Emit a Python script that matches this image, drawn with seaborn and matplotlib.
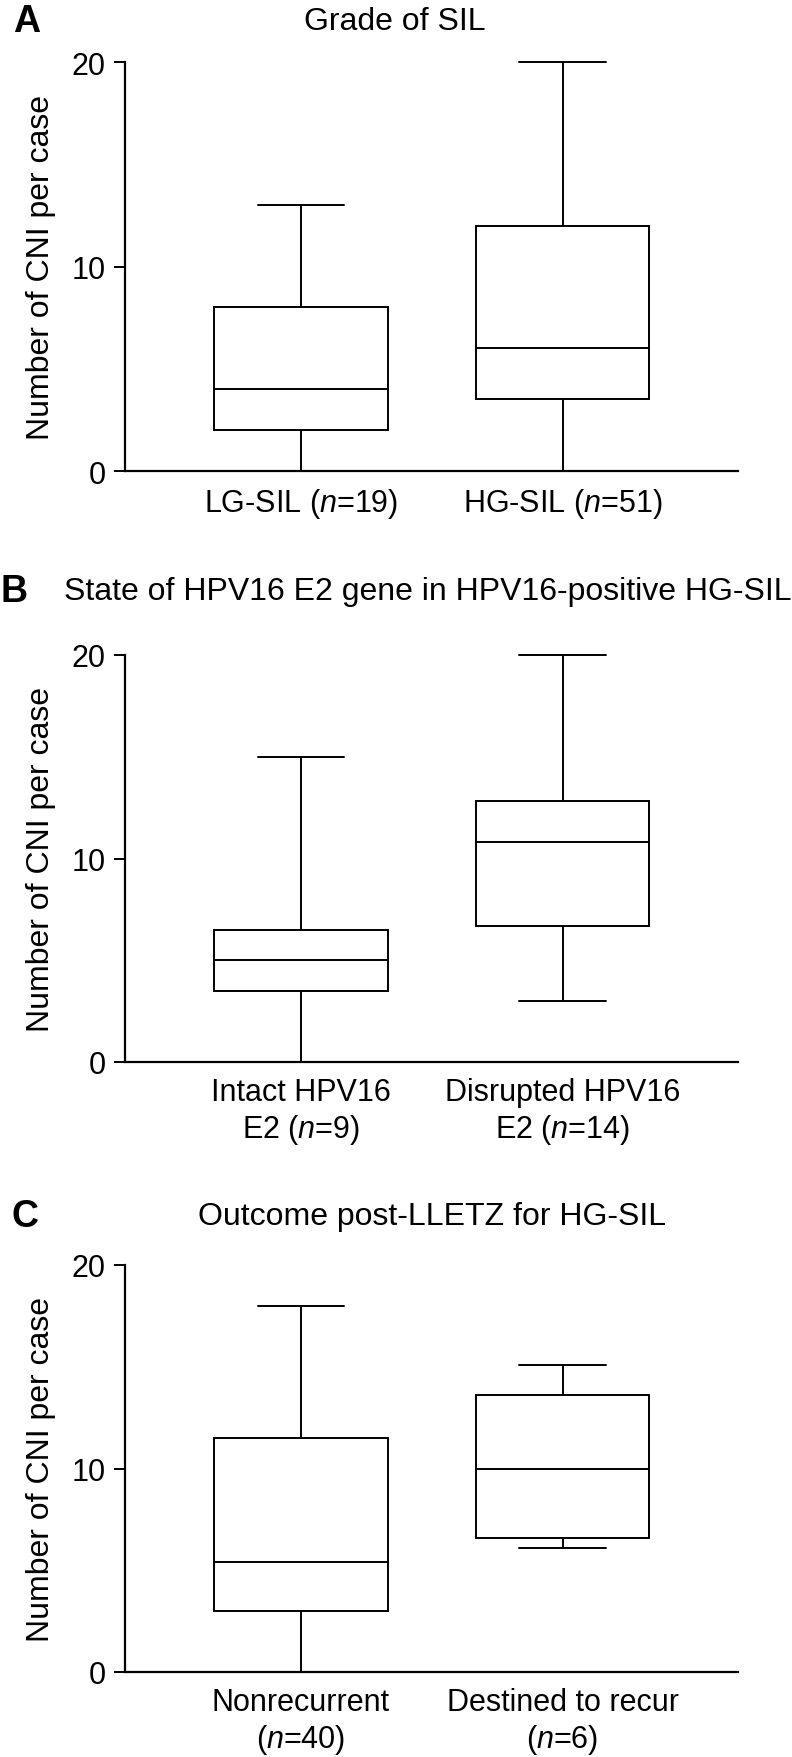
import numpy as np
import pandas as pd
import matplotlib
matplotlib.use('Agg')
import matplotlib.pyplot as plt
import seaborn as sns

# Resumo de cinco números: mínimo, Q1, mediana, Q3, máximo
grupos_a = ['LG-SIL ($\\mathit{n}$=19)', 'HG-SIL ($\\mathit{n}$=51)']
lg_sil = [0, 2, 4, 8, 13]
hg_sil = [0, 3.5, 6, 12, 20]

grupos_b = ['Intact HPV16\nE2 ($\\mathit{n}$=9)', 'Disrupted HPV16\nE2 ($\\mathit{n}$=14)']
e2_intacto = [0, 3.5, 5, 6.5, 15]
e2_rompido = [3, 6.7, 10.8, 12.85, 20]

grupos_c = ['Nonrecurrent\n($\\mathit{n}$=40)', 'Destined to recur\n($\\mathit{n}$=6)']
nao_recorrente = [0, 3, 5.4, 11.5, 18]
recorrente = [6.1, 6.6, 10, 13.6, 15.1]

titulos = ['Grade of SIL',
           'State of HPV16 E2 gene in HPV16-positive HG-SIL',
           'Outcome post-LLETZ for HG-SIL']
letras = ['A', 'B', 'C']
rotulo_y = 'Number of CNI per case'
ticks_y = [0, 10, 20]

sns.set_style('ticks')
fonte = ['Liberation Sans', 'DejaVu Sans']
plt.rcParams['font.family'] = fonte
plt.rcParams['text.color'] = 'black'
plt.rcParams['axes.labelcolor'] = 'black'
plt.rcParams['xtick.color'] = 'black'
plt.rcParams['ytick.color'] = 'black'
plt.rcParams['axes.edgecolor'] = 'black'
plt.rcParams['mathtext.fontset'] = 'custom'
plt.rcParams['mathtext.rm'] = 'Liberation Sans'
plt.rcParams['mathtext.it'] = 'Liberation Sans:italic'

W, H = 792, 1758
fig = plt.figure(figsize=(W / 100, H / 100), dpi=100)

# posições em pixels: (topo do eixo, base do eixo, y do título, x do título, x da letra)
paineis = [
    (63, 472, 22, 395, 27),
    (656, 1063, 592, 428, 14),
    (1266, 1673, 1217, 432, 25),
]
dados = [(grupos_a, lg_sil, hg_sil), (grupos_b, e2_intacto, e2_rompido), (grupos_c, nao_recorrente, recorrente)]

for i, (grupos, g1, g2) in enumerate(dados):
    topo, base, ty, tx, lx = paineis[i]
    ax = fig.add_axes([125 / W, 1 - base / H, 613 / W, (base - topo) / H])
    df = pd.DataFrame({'grupo': [grupos[0]] * len(g1) + [grupos[1]] * len(g2),
                       'valor': g1 + g2})
    sns.boxplot(data=df, x='grupo', y='valor', order=grupos, whis=(0, 100),
                width=0.662, color='white', linecolor='black', linewidth=1.4,
                fliersize=0, ax=ax)
    for art in ax.lines + ax.patches:
        art.set_clip_on(False)
    ax.set_xlim(-0.673, 1.671)
    ax.set_ylim(0, 20)
    ax.set_yticks(ticks_y)
    ax.set_xlabel('')
    ax.set_ylabel(rotulo_y, fontsize=23)
    ax.yaxis.set_label_coords(-0.1126, 0.5)
    ax.tick_params(axis='y', length=8, width=1.4, pad=6, labelsize=22)
    ax.tick_params(axis='x', length=0, pad=11, labelsize=22)
    sns.despine(ax=ax)
    for s in ['left', 'bottom']:
        ax.spines[s].set_linewidth(1.6)
    fig.text(tx / W, 1 - ty / H, titulos[i], ha='center', va='center', fontsize=23)
    fig.text(lx / W, 1 - ty / H, letras[i], ha='center', va='center', fontsize=27,
             fontweight='bold')

plt.savefig('out.png', dpi=100)
